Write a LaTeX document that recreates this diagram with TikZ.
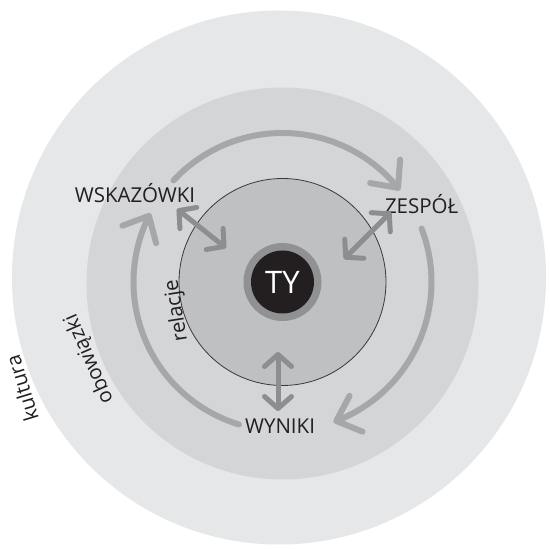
\documentclass[tikz,border=0pt]{standalone}
\usepackage{fontspec}
\setmainfont{Open Sans}
\usetikzlibrary{arrows.meta,bending}
\definecolor{cKult}{HTML}{E6E7E8}
\definecolor{cObow}{HTML}{D4D5D7}
\definecolor{cRel}{HTML}{BFC0C2}
\definecolor{cRing}{HTML}{909193}
\definecolor{cCore}{HTML}{231F20}
\definecolor{cArc}{HTML}{A6A7A9}
\definecolor{cInner}{HTML}{8D8E90}
\definecolor{cTxt}{HTML}{231F20}
\definecolor{cEdge}{HTML}{3A3A3A}
\begin{document}
\begin{tikzpicture}[x=1pt,y=1pt,
  disc/.style={circle,inner sep=0pt},
  lbl/.style={font=\fontsize{20.5}{24}\selectfont, text=cTxt, inner sep=0pt, anchor=base},
  cyc/.style={line width=6pt, draw=cArc, line cap=round,
    -{Straight Barb[length=21pt,width=38pt,round]}},
  relarrow/.style={line width=5pt, draw=cInner, line cap=round,
    {Straight Barb[length=12pt,width=27pt,round]}-{Straight Barb[length=12pt,width=27pt,round]}}
]
\useasboundingbox (0,0) rectangle (550,549);
\fill[white] (0,0) rectangle (550,549);
% rings
\node[disc, fill=cKult, minimum size=534pt] (kult) at (279,271.5) {};
\node[disc, fill=cObow, minimum size=392pt] (obow) at (282.5,265.5) {};
\node[disc, fill=cRel, draw=cEdge, line width=0.8pt, minimum size=207pt] (rel) at (282.5,267) {};
\node[disc, fill=cRing, minimum size=78pt] (ring) at (282.5,267) {};
\node[disc, fill=cCore, minimum size=63pt, text=white,
  font=\fontsize{31}{36}\selectfont] (ty) at (282.5,267) {TY};
\coordinate (C) at (282.5,267);
% cycle arcs
\path (C) ++(137:149) coordinate (a1s);
\path (C) ++(21:149) coordinate (a2s);
\path (C) ++(253:149) coordinate (a3s);
\draw[cyc] (a1s) arc[start angle=137, end angle=38, radius=149];
\draw[cyc] (a2s) arc[start angle=21, end angle=-70, radius=149];
\draw[cyc] (a3s) arc[start angle=253, end angle=152.5, radius=149];
% labels
\node[lbl] (wsk) at (135,346.3) {WSKAZÓWKI};
\node[lbl] (zes) at (421.7,335) {ZESPÓŁ};
\node[lbl] (wyn) at (280,115) {WYNIKI};
\node[lbl, rotate=99] (relacje) at (182.2,239) {relacje};
\node[lbl, rotate=113.5] (obowiazki) at (94.5,192.2) {obowiązki};
\node[lbl, rotate=107] (kultura) at (29.3,162.6) {kultura};
% relation arrows
\coordinate (w1) at (177,340); \coordinate (w2) at (226,301);
\coordinate (z1) at (391,337); \coordinate (z2) at (344,290);
\coordinate (y1) at (278,197); \coordinate (y2) at (278,138);
\draw[relarrow] (w1) -- (w2);
\draw[relarrow] (z1) -- (z2);
\draw[relarrow] (y1) -- (y2);
\end{tikzpicture}
\end{document}
